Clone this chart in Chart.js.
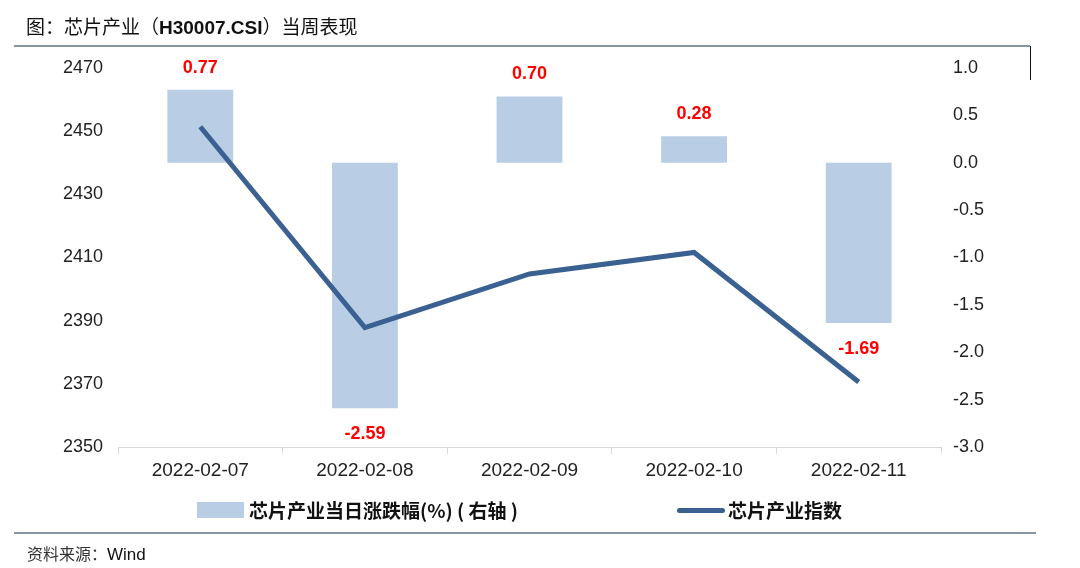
<!DOCTYPE html>
<html>
<head>
<meta charset="utf-8">
<script src="https://cdn.jsdelivr.net/npm/chart.js@4.4.0/dist/chart.umd.min.js"></script>
<style>
  body { margin: 0; width: 1080px; height: 568px; background: #fff; position: relative; overflow: hidden;
         font-family: "Liberation Sans", Arial, "Noto Sans CJK SC", sans-serif; }
  #wrap { position: absolute; left: 0; top: 0; width: 1080px; height: 568px; }
  .title { position: absolute; left: 26px; top: 13px; font-size: 19px; color: #111;
           font-family: "Noto Sans CJK SC", sans-serif; line-height: 26px; }
  .title b { font-family: "Liberation Sans", Arial, sans-serif; }
  .rule { position: absolute; height: 2px; background: #8a95a3; }
  .vmark { position: absolute; left: 1030px; top: 46px; width: 1px; height: 34px; background: #111; }
  .legend { position: absolute; top: 498px; font-size: 19px; font-weight: bold; color: #111;
            font-family: "Noto Sans CJK SC", sans-serif; line-height: 24px; }
  .swatch { position: absolute; }
  .source { position: absolute; left: 27px; top: 541px; font-size: 16px; color: #333;
            font-family: "Noto Sans CJK SC", sans-serif; line-height: 24px; }
  .source span { font-family: "Liberation Sans", Arial, sans-serif; font-size: 17px; color: #111; }
</style>
</head>
<body>
<div id="wrap"><canvas id="chart" width="1080" height="568"></canvas></div>
<div class="title">图：芯片产业（<b>H30007.CSI</b>）当周表现</div>
<div class="rule" style="left:14px; top:45px; width:1016px;"></div>
<div class="vmark"></div>
<div class="swatch" style="left:197px; top:502px; width:47px; height:16px; background:#b9cee5;"></div>
<div class="legend" style="left:249px;">芯片产业当日涨跌幅(%) ( 右轴 )</div>
<div class="swatch" style="left:677px; top:508px; width:48px; height:5px; border-radius:3px; background:#3a6192;"></div>
<div class="legend" style="left:728px;">芯片产业指数</div>
<div class="rule" style="left:14px; top:532px; width:1022px;"></div>
<div class="source">资料来源：<span>Wind</span></div>
<script>
const dates = ["2022-02-07", "2022-02-08", "2022-02-09", "2022-02-10", "2022-02-11"];
const dailyChange = [0.77, -2.59, 0.70, 0.28, -1.69];
const indexValues = [2451.4, 2387.8, 2404.8, 2411.6, 2370.6];

const barLabels = {
  id: "barLabels",
  afterDatasetsDraw(chart) {
    const ctx = chart.ctx;
    const meta = chart.getDatasetMeta(1);
    ctx.save();
    ctx.font = "bold 18px 'Liberation Sans', Arial, sans-serif";
    ctx.fillStyle = "#ff0000";
    ctx.textAlign = "center";
    ctx.textBaseline = "middle";
    meta.data.forEach((bar, i) => {
      const v = dailyChange[i];
      const y = v >= 0 ? bar.y - 22 : bar.y + 26;
      ctx.fillText(v.toFixed(2), bar.x, y);
    });
    ctx.restore();
  }
};

const tickFont = { family: "'Liberation Sans', Arial, sans-serif", size: 18 };

new Chart(document.getElementById("chart"), {
  data: {
    labels: dates,
    datasets: [
      {
        type: "line",
        label: "芯片产业指数",
        data: indexValues,
        yAxisID: "yLeft",
        borderColor: "#3a6192",
        borderWidth: 5,
        pointRadius: 0,
        tension: 0,
        order: 0
      },
      {
        type: "bar",
        label: "芯片产业当日涨跌幅(%) ( 右轴 )",
        data: dailyChange,
        yAxisID: "yRight",
        backgroundColor: "#b9cee5",
        categoryPercentage: 1,
        barPercentage: 0.4,
        order: 1
      }
    ]
  },
  options: {
    responsive: false,
    animation: false,
    layout: { padding: { top: 68, left: 0, right: 0, bottom: 0 } },
    plugins: { legend: { display: false }, tooltip: { enabled: false } },
    scales: {
      x: {
        offset: true,
        grid: { display: true, offset: true, drawOnChartArea: false, drawTicks: true, tickLength: 7, color: "#d9d9d9" },
        border: { display: true, color: "#d9d9d9", width: 1 },
        ticks: { font: { family: tickFont.family, size: 19 }, color: "#222", padding: 5, maxRotation: 0 },
        afterFit(scale) { scale.height = 121; }
      },
      yLeft: {
        position: "left",
        min: 2350,
        max: 2470,
        grid: { display: false, drawTicks: false },
        border: { display: false },
        ticks: { stepSize: 20, font: tickFont, color: "#222", padding: 15, callback: (v) => String(v) },
        afterFit(scale) { scale.width = 118; }
      },
      yRight: {
        position: "right",
        min: -3,
        max: 1,
        grid: { display: false, drawTicks: false },
        border: { display: false },
        ticks: {
          stepSize: 0.5, font: tickFont, color: "#222", padding: 12,
          callback: (v) => Number(v).toFixed(1)
        },
        afterFit(scale) { scale.width = 139; }
      }
    }
  },
  plugins: [barLabels]
});
</script>
</body>
</html>
